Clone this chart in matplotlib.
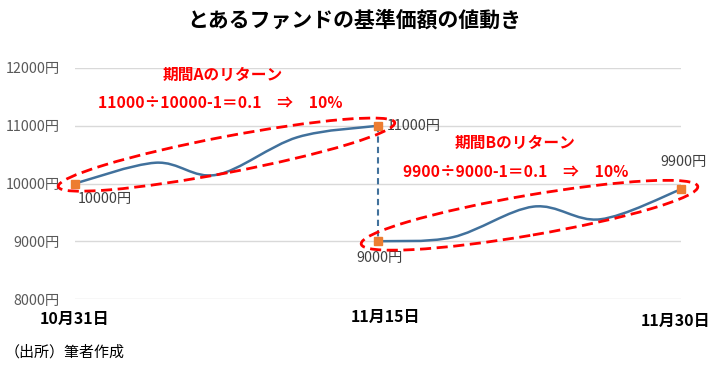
import numpy as np
import matplotlib
matplotlib.use("Agg")
import matplotlib.pyplot as plt
from matplotlib.path import Path
from matplotlib.patches import PathPatch, Ellipse
from matplotlib.transforms import IdentityTransform, ScaledTranslation

plt.rcParams['font.family'] = ['Noto Sans CJK JP', 'DejaVu Sans']

# data (days since 10/31, price in yen)
days_a = [0, 4, 7, 11, 15]
price_a = [10000, 10360, 10150, 10800, 11000]
days_b = [15, 18.7, 22.7, 26, 30]
price_b = [9000, 9070, 9600, 9380, 9900]

yticks = [8000, 9000, 10000, 11000, 12000]
xtick_days = [0, 15, 30]
xtick_labels = ["10月31日", "11月15日", "11月30日"]

LINE = "#41719c"
MARK = "#ed7d31"
RED = "#ff0000"


def smooth_path(xs, ys):
    """Excel style smoothed line: Catmull-Rom converted to cubic Bezier."""
    pts = np.column_stack([xs, ys]).astype(float)
    n = len(pts)
    verts = [pts[0]]
    codes = [Path.MOVETO]
    for i in range(n - 1):
        p0 = pts[max(i - 1, 0)]
        p1 = pts[i]
        p2 = pts[i + 1]
        p3 = pts[min(i + 2, n - 1)]
        c1 = p1 + (p2 - p0) / 6.0
        c2 = p2 - (p3 - p1) / 6.0
        verts += [c1, c2, p2]
        codes += [Path.CURVE4] * 3
    return Path(verts, codes)


fig = plt.figure(figsize=(7.21, 3.70), dpi=100)
ax = fig.add_axes([75 / 721, 71 / 370, 606 / 721, 231 / 370])
ax.set_xlim(0, 30)
ax.set_ylim(8000, 12000)

for s in ax.spines.values():
    s.set_visible(False)
ax.set_yticks(yticks)
ax.set_yticklabels([f"{v}円" for v in yticks], color="#595959", fontsize=10.3)
ax.yaxis.grid(True, color="#d9d9d9", lw=1)
ax.set_axisbelow(True)
ax.tick_params(axis="y", length=0, pad=11)
ax.set_xticks(xtick_days)
ax.set_xticklabels(xtick_labels, fontsize=11.5, fontweight="bold")
ax.tick_params(axis="x", length=0, pad=8)
# the date labels sit slightly off their ticks in the original
for lab, (dx, dy) in zip(ax.get_xticklabels(), [(0, -1), (8, 1), (-5, -3)]):
    lab.set_transform(lab.get_transform()
                      + ScaledTranslation(dx / 100, dy / 100, fig.dpi_scale_trans))

# price lines
for xs, ys in [(days_a, price_a), (days_b, price_b)]:
    ax.add_patch(PathPatch(smooth_path(xs, ys), fill=False, ec=LINE, lw=1.8,
                           zorder=3))

# jump between the two periods
ax.plot([days_a[-1], days_b[0]], [price_a[-1], price_b[0]], color=LINE,
        lw=1.5, ls=(0, (3, 2)), zorder=3)

ends_x = [days_a[0], days_a[-1], days_b[0], days_b[-1]]
ends_y = [price_a[0], price_a[-1], price_b[0], price_b[-1]]
ax.plot(ends_x, ends_y, ls="none", marker="s", ms=5.5, color=MARK, zorder=4,
        clip_on=False)

# data labels
offsets = [((3, -15), "left", "center"), ((9, 0), "left", "center"),
           ((2, -17), "center", "center"), ((3, 27), "center", "center")]
for x, y, (off, ha, va) in zip(ends_x, ends_y, offsets):
    ax.annotate(f"{y}円", (x, y), xytext=off, textcoords="offset pixels",
                ha=ha, va=va, fontsize=10.3, color="#404040", zorder=5)

# red dashed ellipses around each period
disp = ax.transData
for (xs, ys), h in [((days_a, price_a), 36), ((days_b, price_b), 40)]:
    p1 = disp.transform((xs[0], ys[0]))
    p2 = disp.transform((xs[-1], ys[-1]))
    c = (p1 + p2) / 2
    d = p2 - p1
    w = np.hypot(*d) + 34
    ang = np.degrees(np.arctan2(d[1], d[0]))
    ax.add_artist(Ellipse(c, w, h, angle=ang, fill=False, ec=RED, lw=2,
                          ls=(0, (4, 2)), transform=IdentityTransform(),
                          zorder=6, clip_on=False))

# return annotations
ret_a = price_a[-1] / price_a[0] - 1
ret_b = price_b[-1] / price_b[0] - 1
tkw = dict(color=RED, fontsize=11.3, fontweight="bold", ha="center",
           va="center")
ax.text(7.3, 11880, "期間Aのリターン", **tkw)
ax.text(7.2, 11400,
        f"{price_a[-1]}÷{price_a[0]}-1＝{ret_a:.1f}　⇒　{ret_a:.0%}", **tkw)
ax.text(21.8, 10700, "期間Bのリターン", **tkw)
ax.text(21.8, 10200,
        f"{price_b[-1]}÷{price_b[0]}-1＝{ret_b:.1f}　⇒　{ret_b:.0%}", **tkw)

fig.text(354 / 721, 1 - 20 / 370, "とあるファンドの基準価額の値動き",
         fontsize=15, fontweight="bold", ha="center", va="center")
fig.text(5 / 721, 1 - 352 / 370, "（出所）筆者作成", fontsize=10.8,
         ha="left", va="center")

fig.savefig("out.png", dpi=100)
